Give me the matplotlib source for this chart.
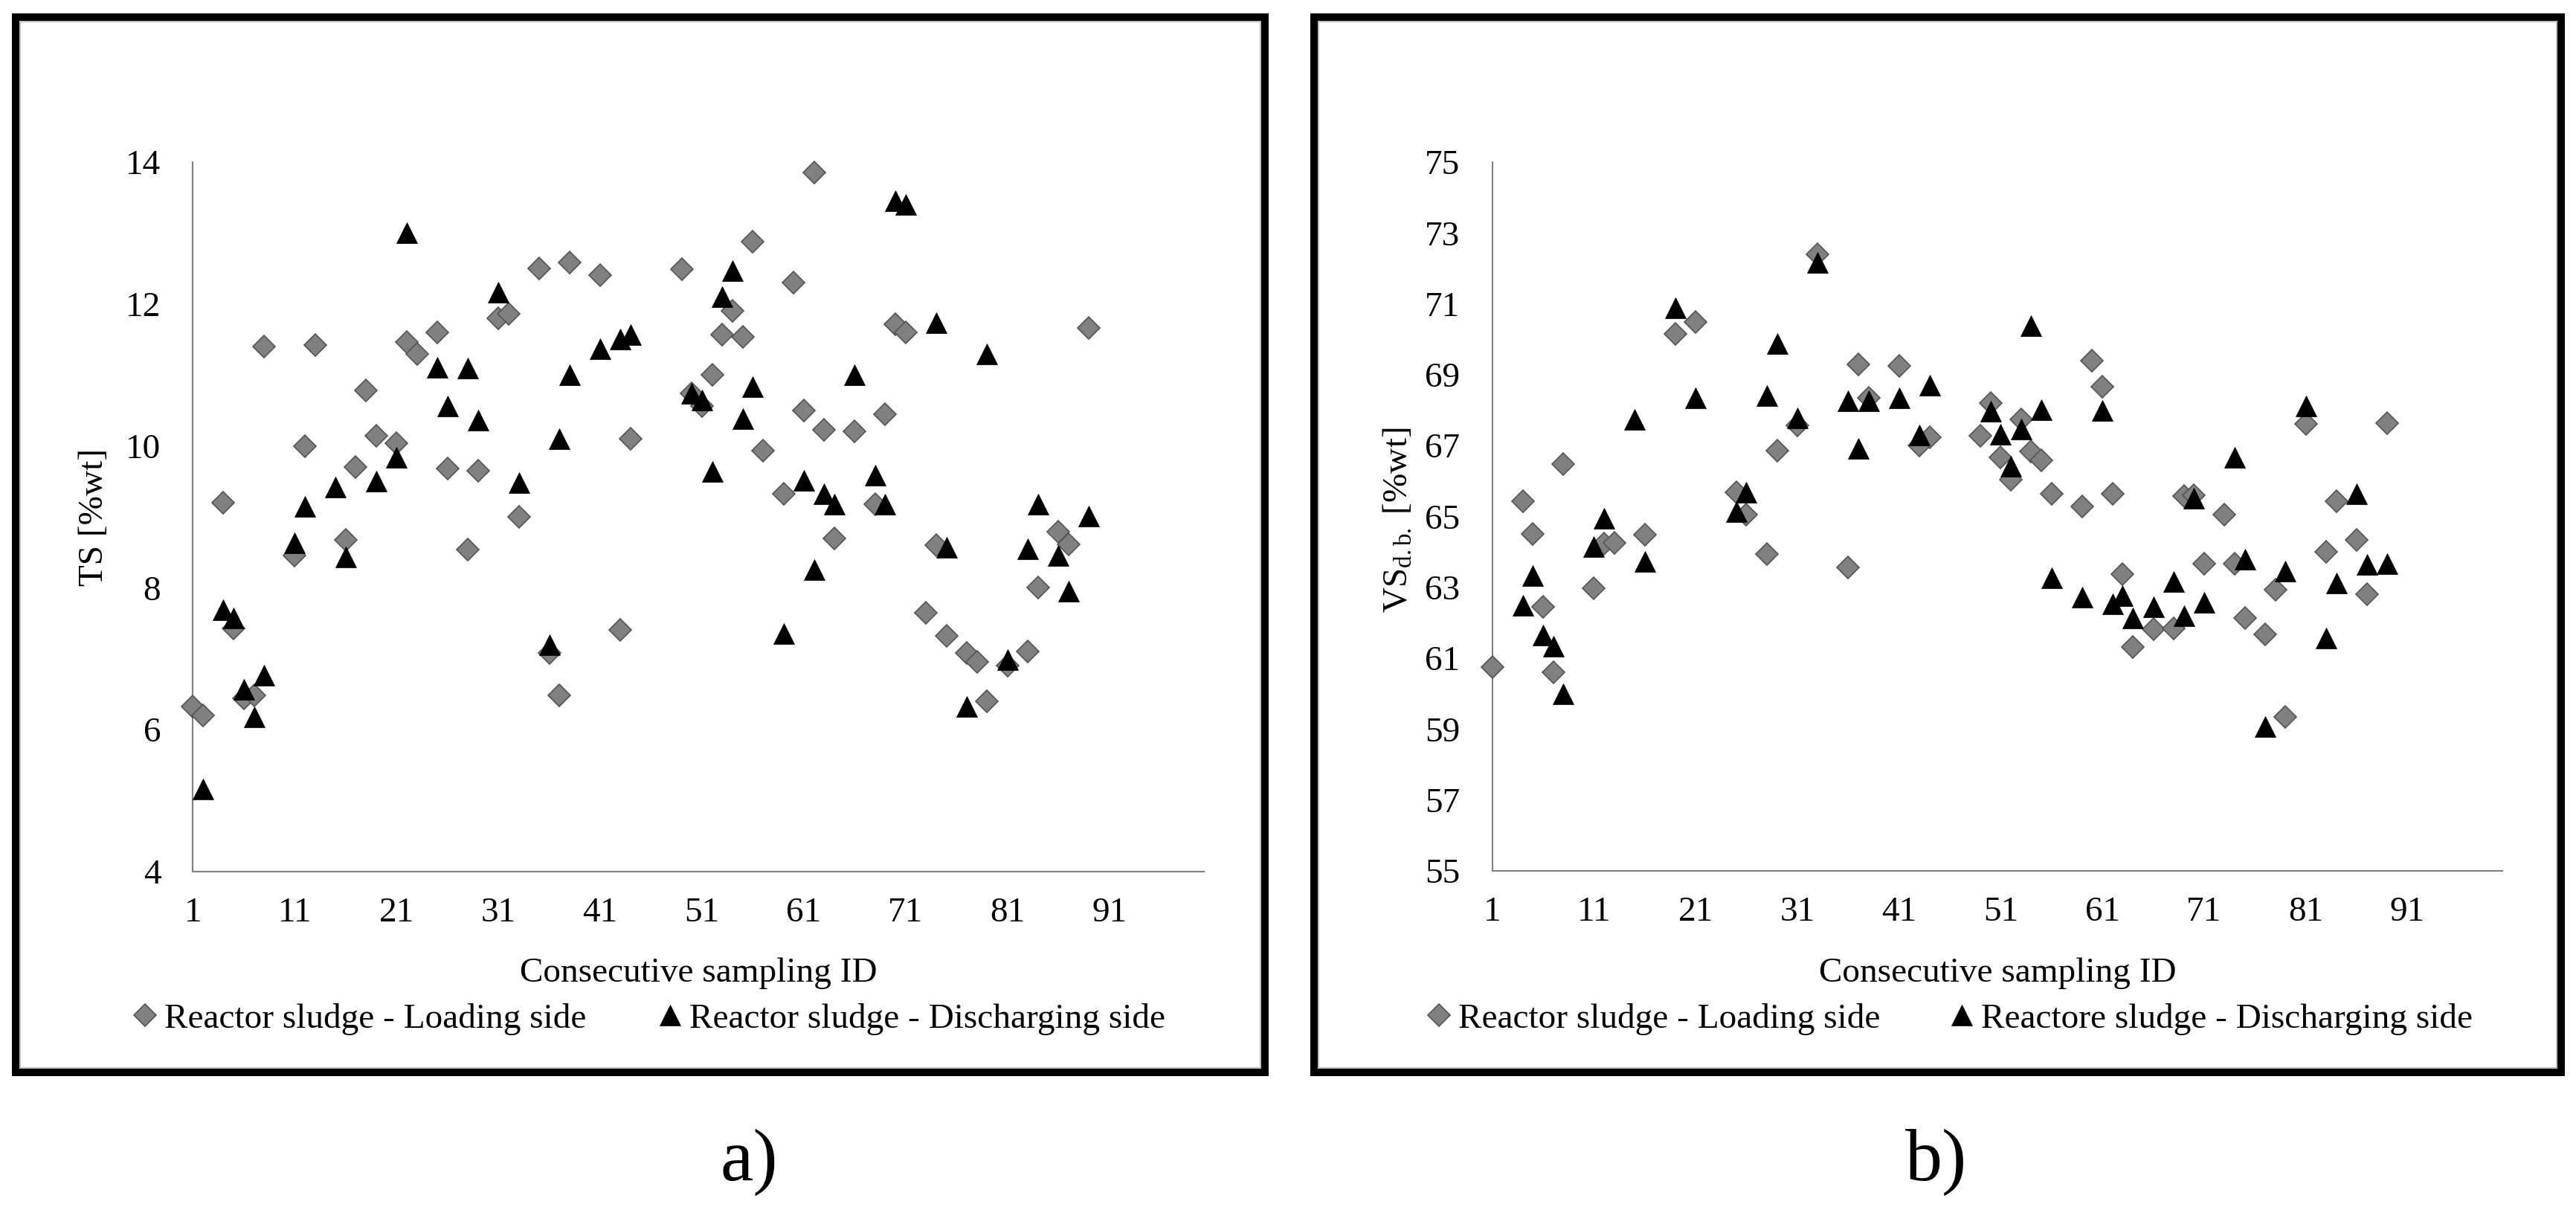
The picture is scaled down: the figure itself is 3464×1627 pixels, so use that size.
import matplotlib
matplotlib.use("Agg")
import matplotlib.pyplot as plt
from matplotlib.lines import Line2D
from matplotlib.patches import Rectangle

plt.rcParams['font.family'] = ['Liberation Serif', 'DejaVu Serif']
plt.rcParams['mathtext.fontset'] = 'custom'
plt.rcParams['mathtext.rm'] = 'Liberation Serif'
plt.rcParams['mathtext.it'] = 'Liberation Serif:italic'

# ---------------- data ----------------
# Panel a) TS [%wt]
ts_load_x = [1, 2, 4, 5, 6, 7, 8, 11, 12, 13, 16, 17, 18, 19, 21, 22, 23, 25, 26, 28, 29, 31, 32, 33,
             35, 36, 37, 38, 41, 43, 44, 49, 50, 51, 52, 53, 54, 55, 56, 57, 59, 60, 61, 62, 63, 64,
             66, 68, 69, 70, 71, 73, 74, 75, 77, 78, 79, 81, 83, 84, 86, 87, 89]
ts_load_y = [6.33, 6.2, 9.2, 7.43, 6.44, 6.48, 11.4, 8.46, 10.0, 11.42, 8.68, 9.7, 10.78, 10.14, 10.04,
             11.46, 11.3, 11.6, 9.68, 8.54, 9.65, 11.8, 11.86, 9.0, 12.5, 7.08, 6.48, 12.58, 12.41, 7.41,
             10.1, 12.49, 10.74, 10.56, 11.0, 11.57, 11.9, 11.54, 12.88, 9.93, 9.32, 12.3, 10.5, 13.85,
             10.23, 8.7, 10.21, 9.18, 10.45, 11.71, 11.6, 7.65, 8.6, 7.32, 7.08, 6.96, 6.4, 6.9, 7.1, 8.0,
             8.79, 8.61, 11.66]
ts_dis_x = [2, 4, 5, 6, 7, 8, 11, 12, 15, 16, 19, 21, 22, 25, 26, 28, 29, 31, 33, 36, 37, 38, 41, 43, 44,
            50, 51, 52, 53, 54, 55, 56, 59, 61, 62, 63, 64, 66, 68, 69, 70, 71, 74, 75, 77, 79, 81, 83,
            84, 86, 87, 89]
ts_dis_y = [5.16, 7.69, 7.57, 6.57, 6.18, 6.77, 8.63, 9.15, 9.42, 8.43, 9.5, 9.84, 13.0, 11.11, 10.56,
            11.1, 10.36, 12.17, 9.48, 7.2, 10.1, 11.0, 11.37, 11.5, 11.57, 10.74, 10.65, 9.64, 12.1,
            12.47, 10.38, 10.83, 7.35, 9.51, 8.26, 9.32, 9.18, 11.0, 9.59, 9.18, 13.46, 13.4, 11.74,
            8.57, 6.33, 11.3, 6.99, 8.55, 9.18, 8.46, 7.95, 9.01]

# Panel b) VS d.b. [%wt]
vs_load_x = [1, 4, 5, 6, 7, 8, 11, 12, 13, 16, 19, 21, 25, 26, 28, 29, 31, 33, 36, 37, 38, 41, 43, 44,
             49, 50, 51, 52, 53, 54, 55, 56, 59, 60, 61, 62, 63, 64, 66, 68, 69, 70, 71, 73, 74, 75,
             77, 78, 79, 81, 83, 84, 86, 87, 89]
vs_load_y = [60.76, 65.42, 64.5, 62.46, 60.6, 66.47, 62.97, 64.23, 64.26, 64.48, 70.16, 70.48, 65.69,
             65.06, 63.94, 66.85, 67.58, 72.39, 63.56, 69.29, 68.34, 69.26, 67.0, 67.24, 67.27, 68.19,
             66.66, 66.03, 67.73, 66.84, 66.59, 65.64, 65.28, 69.4, 68.67, 65.64, 63.38, 61.31, 61.82,
             61.85, 65.57, 65.6, 63.67, 65.06, 63.67, 62.14, 61.68, 62.94, 59.34, 67.61, 64.0, 65.42,
             64.33, 62.8, 67.64]
vs_dis_x = [4, 5, 6, 7, 8, 11, 12, 15, 16, 19, 21, 25, 26, 28, 29, 31, 33, 36, 37, 38, 41, 43, 44, 50,
            51, 52, 53, 54, 55, 56, 59, 61, 62, 63, 64, 66, 68, 69, 70, 71, 74, 75, 77, 79, 81, 83, 84,
            86, 87, 89]
vs_dis_y = [62.5, 63.34, 61.66, 61.34, 59.99, 64.14, 64.94, 67.73, 63.72, 70.89, 68.34, 65.13, 65.69,
            68.41, 69.87, 67.78, 72.16, 68.27, 66.92, 68.27, 68.34, 67.29, 68.7, 67.97, 67.32, 66.41,
            67.46, 70.38, 68.02, 63.27, 62.73, 68.0, 62.54, 62.77, 62.14, 62.46, 63.16, 62.19, 65.52,
            62.58, 66.66, 63.79, 59.08, 63.45, 68.12, 61.56, 63.12, 65.64, 63.64, 63.67]

x_ticks = [1, 11, 21, 31, 41, 51, 61, 71, 81, 91]
ts_ticks = [4, 6, 8, 10, 12, 14]
vs_ticks = [55, 57, 59, 61, 63, 65, 67, 69, 71, 73, 75]

label_load = "Reactor sludge - Loading side"
label_dis_a = "Reactor sludge - Discharging side"
label_dis_b = "Reactore sludge - Discharging side"

# ---------------- layout ----------------
W, H = 3464, 1627
FS = 34
fig = plt.figure(figsize=(W / 100, H / 100), dpi=100)


def fx(px):
    return px / W


def fy(py):
    return 1 - py / H


GRAY = '#808080'
DIA = dict(marker='D', ms=15, mfc='#808080', mec='#555555', mew=1.2, ls='none')
TRI = dict(marker='^', ms=20.5, mfc='black', mec='black', mew=0.5, ls='none')

# panel frames
for (x0, x1) in [(21, 1701), (1767, 3444)]:
    fig.patches.append(Rectangle((fx(x0), fy(1442)), fx(x1) - fx(x0), fy(23) - fy(1442),
                                 transform=fig.transFigure, fill=False, ec='black', lw=7.2,
                                 joinstyle='miter'))
    fig.patches.append(Rectangle((fx(x0 + 6), fy(1436)), fx(x1 - 6) - fx(x0 + 6), fy(29) - fy(1436),
                                 transform=fig.transFigure, fill=False, ec='#b0b0b0', lw=1.2))


def make_axes(left, right, top, bottom, ylim, yticks):
    ax = fig.add_axes([fx(left), fy(bottom), fx(right) - fx(left), fy(top) - fy(bottom)])
    ax.set_xlim(1, 100.3)
    ax.set_ylim(*ylim)
    ax.set_xticks(x_ticks)
    ax.set_yticks(yticks)
    for s in ['top', 'right']:
        ax.spines[s].set_visible(False)
    for s in ['left', 'bottom']:
        ax.spines[s].set_color(GRAY)
        ax.spines[s].set_linewidth(1.5)
    ax.tick_params(axis='both', length=0, labelsize=FS, colors='black')
    ax.tick_params(axis='x', pad=25)
    ax.tick_params(axis='y', pad=31)
    ax.patch.set_alpha(0)
    return ax


ax_a = make_axes(259.4, 1619, 218, 1172, (4, 14), ts_ticks)
ax_a.plot(ts_load_x, ts_load_y, zorder=3, clip_on=False, **DIA)
ax_a.plot(ts_dis_x, ts_dis_y, zorder=4, clip_on=False, **TRI)

ax_b = make_axes(2006.6, 3364.6, 218, 1171, (55, 75), vs_ticks)
ax_b.plot(vs_load_x, vs_load_y, zorder=3, clip_on=False, **DIA)
ax_b.plot(vs_dis_x, vs_dis_y, zorder=4, clip_on=False, **TRI)

# axis titles
fig.text(fx(127), fy(695), "TS [%wt]", rotation=90, ha='center', va='center', fontsize=FS)
fig.text(fx(1881), fy(699), r"VS$_{\mathrm{d.b.}}$ [%wt]", rotation=90, ha='center', va='center',
         fontsize=FS)
fig.text(fx(939), fy(1309), "Consecutive sampling ID", ha='center', va='center', fontsize=FS)
fig.text(fx(2686), fy(1309), "Consecutive sampling ID", ha='center', va='center', fontsize=FS)

# legends (one entry each, placed at the reference handle positions)
em = FS * 100 / 72
h_dia = Line2D([], [], **DIA)
h_tri = Line2D([], [], **TRI)
for cx, handle, label in [(195, h_dia, label_load), (901, h_tri, label_dis_a),
                          (1935, h_dia, label_load), (2638, h_tri, label_dis_b)]:
    fig.legend([handle], [label], loc='center left',
               bbox_to_anchor=(fx(cx - 0.35 * em), fy(1370)), bbox_transform=fig.transFigure,
               frameon=False, borderpad=0, borderaxespad=0, handlelength=0.7,
               handletextpad=0.2, fontsize=FS)

# panel captions
fig.text(fx(1007), fy(1563), "a)", ha='center', va='center', fontsize=72)
fig.text(fx(2604), fy(1563), "b)", ha='center', va='center', fontsize=72)

fig.savefig("out.png", dpi=100, facecolor='white')
